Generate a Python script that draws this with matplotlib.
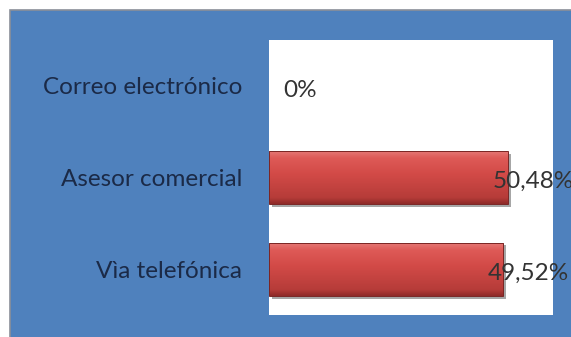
import matplotlib
matplotlib.use("Agg")
import matplotlib.pyplot as plt
import matplotlib.patheffects as pe
from matplotlib.patches import Rectangle
from matplotlib.colors import LinearSegmentedColormap
import numpy as np

categories = ["Vìa telefónica", "Asesor comercial", "Correo electrónico"]
values = [49.52, 50.48, 0.0]
value_labels = ["49,52%", "50,48%", "0%"]

W, H, DPI = 571, 337, 100
fig = plt.figure(figsize=(W / DPI, H / DPI), dpi=DPI)
fig.patch.set_facecolor("white")

# blue slide background with a soft grey rim
bg = Rectangle((10 / W, -0.05), 1.05, 1.05 - 10 / H, transform=fig.transFigure,
               facecolor="#4F81BD", edgecolor="#8a8f98", linewidth=1.2, zorder=-5)
fig.patches.append(bg)

ax = fig.add_axes([269 / W, (H - 315) / H, 284 / W, 275 / H])
ax.set_zorder(1)
ax.set_facecolor("white")
for s in ax.spines.values():
    s.set_visible(False)

y = np.arange(len(categories))
bars = ax.barh(y, values, height=0.58, color="#C0504D", linewidth=0, zorder=2)

# vertical shading for a bevelled look
grad = np.linspace(0, 1, 256).reshape(-1, 1)
cmap = LinearSegmentedColormap.from_list(
    "bevel", [(0.0, "#8e2a28"), (0.12, "#b63c39"), (0.55, "#d24a47"),
              (0.85, "#de5a57"), (1.0, "#e67b78")])
for b in bars:
    if b.get_width() <= 0:
        b.set_visible(False)
        continue
    b.set_path_effects([pe.SimplePatchShadow(offset=(2, -2), shadow_rgbFace="#000000", alpha=0.35),
                        pe.Normal()])
    x0, y0 = b.get_x(), b.get_y()
    im = ax.imshow(grad, cmap=cmap, aspect="auto", origin="lower",
                   extent=(x0, x0 + b.get_width(), y0, y0 + b.get_height()), zorder=3)
    im.set_clip_path(b)
    ax.add_patch(Rectangle((x0, y0), b.get_width(), b.get_height(), fill=False,
                           edgecolor="#7a2624", linewidth=0.7, zorder=4))

ax.set_xlim(0, 60)
ax.set_ylim(-0.5, 2.5)
ax.set_xticks([])
ax.set_yticks(y)
ax.set_yticklabels(categories, fontsize=17.5, color="#1b2a47", family=["Lato", "DejaVu Sans"])
ax.tick_params(axis="y", length=0, pad=19.5)

for yi, v, lab in zip(y, values, value_labels):
    off = 10 if v == 0 else -11
    ax.annotate(lab, (v, yi), xytext=(off, -3), textcoords="offset points",
                ha="left", va="center", fontsize=17.5, color="#333333",
                family=["Lato", "DejaVu Sans"], zorder=5, annotation_clip=False)

fig.savefig("out.png", dpi=DPI)
